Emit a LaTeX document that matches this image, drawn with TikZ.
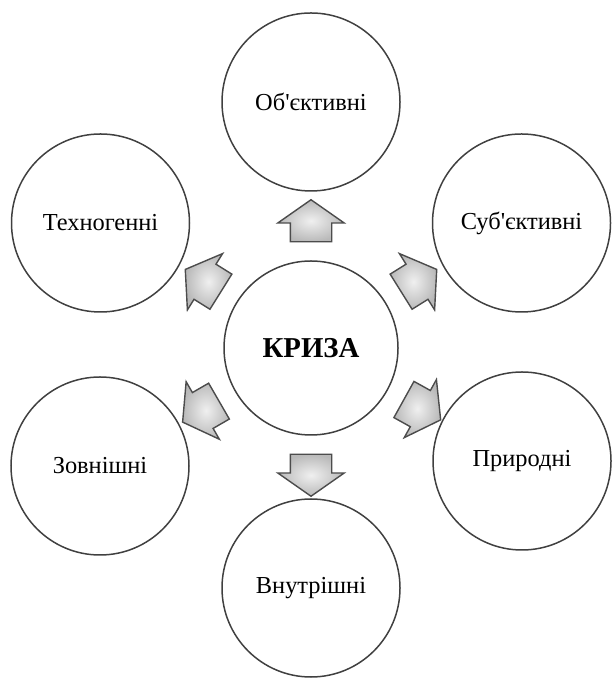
\documentclass[tikz,border=0pt]{standalone}
\usepackage{fontspec}
\setmainfont{Liberation Serif}[Ligatures=TeXOff]
\usetikzlibrary{shapes,shapes.arrows,calc}

\begin{document}
\begin{tikzpicture}
	[x=0.5pt,y=0.5pt,
	kolo/.style={shape=circle,draw=black!75,line width=0.75pt,
		minimum size=89pt,inner sep=1pt,font=\fontsize{12.2}{14}\selectfont},
	strilka/.style={shape=single arrow,draw=black!70,line width=0.7pt,
		inner xsep=0pt,inner ysep=10pt,minimum height=21pt,
		single arrow head extend=6.25pt,single arrow tip angle=110,
		inner color=gray!12,outer color=gray!55}]
	\useasboundingbox (0,0) rectangle (611,678);
	\node[kolo,minimum size=87pt,font=\fontsize{14.4}{16}\selectfont\bfseries] (kryza) at (311,330) {КРИЗА};
	\foreach \name/\x/\y/\text in {obj/311/576/Об'єктивні,sub/521.5/455/Суб'єктивні,
		pryr/522/217/Природні,vnutr/311/90/Внутрішні,zovn/100/212/Зовнішні,
		tekh/100.5/455/Техногенні}
	{
		\node[kolo] (\name) at (\x,\y) {\text};
	}
	\foreach \ang [count=\i] in {90,32,-29,-90,210,148}
	{
		\node[strilka,rotate=\ang] (s\i) at ($(kryza)+(\ang:120)$) {};
	}
\end{tikzpicture}
\end{document}
